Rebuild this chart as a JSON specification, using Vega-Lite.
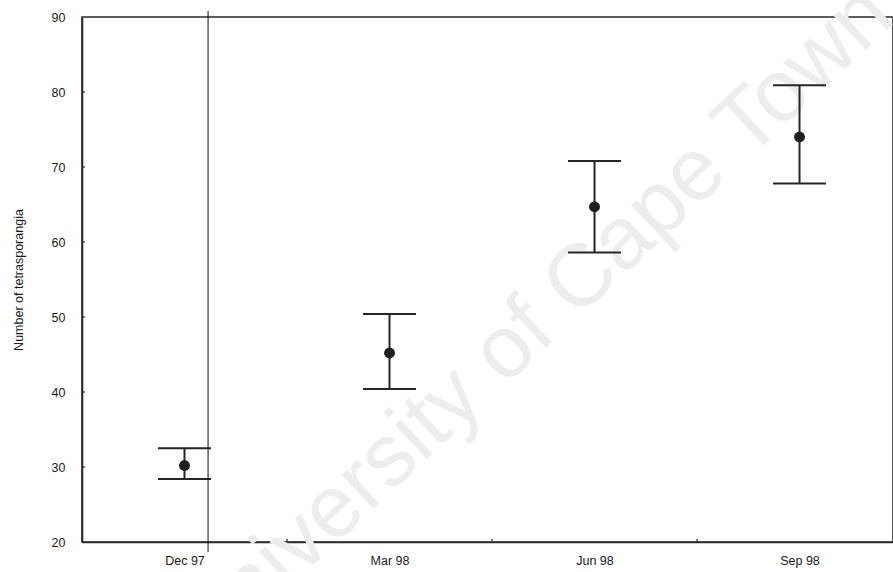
{
  "$schema": "https://vega.github.io/schema/vega-lite/v6.json",
  "autosize": {"type": "none"},
  "width": 811,
  "height": 525,
  "padding": {"left": 82, "top": 17, "right": 0, "bottom": 30},
  "background": "white",
  "config": {
    "view": {"stroke": "#2a2a2a", "strokeWidth": 1.6},
    "font": "Liberation Sans"
  },
  "datasets": {
    "pts": [
      {"month": "Dec 97", "pos": 0.5, "mean": 30.2, "lo": 28.4, "hi": 32.5},
      {"month": "Mar 98", "pos": 1.5, "mean": 45.2, "lo": 40.4, "hi": 50.4},
      {"month": "Jun 98", "pos": 2.5, "mean": 64.7, "lo": 58.6, "hi": 70.8},
      {"month": "Sep 98", "pos": 3.5, "mean": 74.0, "lo": 67.8, "hi": 80.9}
    ],
    "bounds": [{"b": 1}, {"b": 2}, {"b": 3}],
    "yt": [{"v": 30}, {"v": 40}, {"v": 50}, {"v": 60}, {"v": 70}, {"v": 80}],
    "stray": [{"pos": 0.615, "top": 90.8, "bottom": 18.7}]
  },
  "layer": [
    {
      "data": {"values": [{"label": "University of Cape Town"}]},
      "mark": {"type": "text", "color": "#ededed", "fontSize": 88, "angle": -43, "align": "center", "baseline": "middle", "font": "Liberation Sans"},
      "encoding": {
        "x": {"datum": 2.2, "type": "quantitative"},
        "y": {"datum": 49.0, "type": "quantitative"},
        "text": {"field": "label"}
      }
    },
    {
      "data": {"name": "pts"},
      "mark": {"type": "rule", "color": "#262626", "strokeWidth": 2},
      "encoding": {
        "x": {
          "field": "pos", "type": "quantitative",
          "scale": {"domain": [0, 3.956], "nice": false, "zero": false},
          "axis": {
            "title": null, "values": [0.5, 1.5, 2.5, 3.5],
            "labelExpr": "['Dec 97','Mar 98','Jun 98','Sep 98'][floor(datum.value)]",
            "tickSize": 0, "labelPadding": 12, "labelFontSize": 12.5, "labelColor": "#1a1a1a",
            "domainColor": "#2a2a2a", "domainWidth": 1.6, "grid": false
          }
        },
        "y": {
          "field": "lo", "type": "quantitative",
          "scale": {"domain": [20, 90], "nice": false, "zero": false},
          "axis": {
            "title": "Number of tetrasporangia", "values": [20, 30, 40, 50, 60, 70, 80, 90],
            "tickSize": 0, "labelPadding": 17, "labelFontSize": 12.5, "labelColor": "#1a1a1a",
            "titleFontSize": 12.5, "titleFontWeight": "normal", "titleColor": "#1a1a1a", "titlePadding": 26,
            "domainColor": "#2a2a2a", "domainWidth": 1.6, "grid": false
          }
        },
        "y2": {"field": "hi"}
      }
    },
    {
      "data": {"name": "pts"},
      "mark": {"type": "tick", "orient": "horizontal", "size": 53, "thickness": 2, "color": "#262626", "opacity": 1},
      "encoding": {
        "x": {"field": "pos", "type": "quantitative"},
        "y": {"field": "lo", "type": "quantitative"}
      }
    },
    {
      "data": {"name": "pts"},
      "mark": {"type": "tick", "orient": "horizontal", "size": 53, "thickness": 2, "color": "#262626", "opacity": 1},
      "encoding": {
        "x": {"field": "pos", "type": "quantitative"},
        "y": {"field": "hi", "type": "quantitative"}
      }
    },
    {
      "data": {"name": "pts"},
      "mark": {"type": "point", "filled": true, "shape": "circle", "size": 120, "color": "#1e1e1e", "opacity": 1},
      "encoding": {
        "x": {"field": "pos", "type": "quantitative"},
        "y": {"field": "mean", "type": "quantitative"}
      }
    },
    {
      "data": {"name": "stray"},
      "mark": {"type": "rule", "color": "#111", "strokeWidth": 1},
      "encoding": {
        "x": {"field": "pos", "type": "quantitative"},
        "y": {"field": "top", "type": "quantitative"},
        "y2": {"field": "bottom"}
      }
    },
    {
      "data": {"name": "bounds"},
      "mark": {"type": "rule", "color": "#2a2a2a", "strokeWidth": 1.2},
      "encoding": {
        "x": {"field": "b", "type": "quantitative"},
        "y": {"datum": 20, "type": "quantitative"},
        "y2": {"datum": 20.4}
      }
    },
    {
      "data": {"name": "yt"},
      "mark": {"type": "rule", "color": "#2a2a2a", "strokeWidth": 1.2},
      "encoding": {
        "y": {"field": "v", "type": "quantitative"},
        "x": {"datum": 0, "type": "quantitative"},
        "x2": {"datum": 0.015}
      }
    }
  ]
}
